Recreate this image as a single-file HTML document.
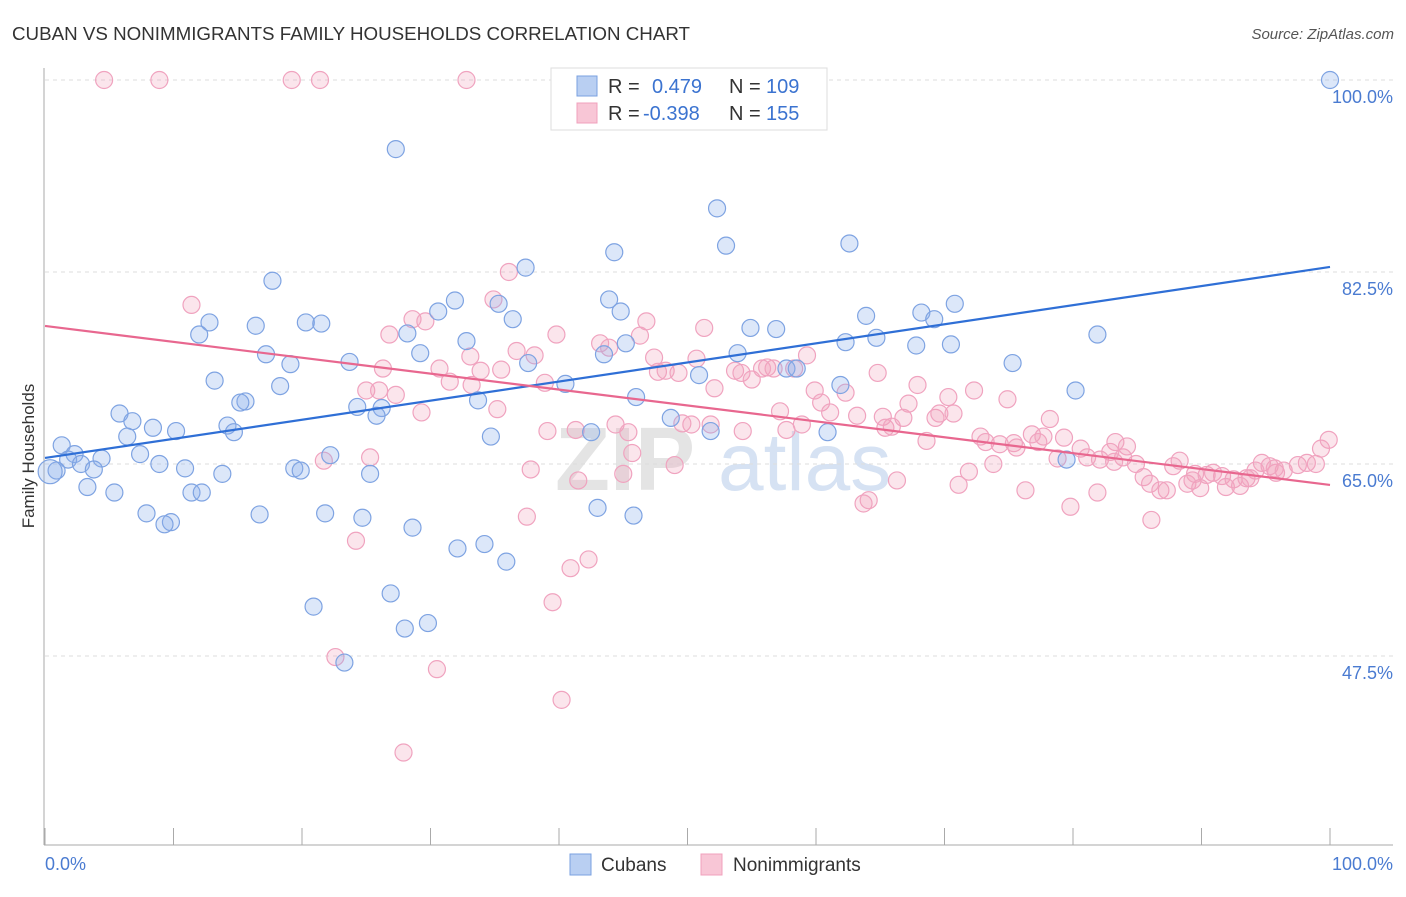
<!DOCTYPE html>
<html><head><meta charset="utf-8"><style>
body{margin:0;background:#fff;font-family:"Liberation Sans",sans-serif}
svg text{font-family:"Liberation Sans",sans-serif}
</style></head><body>
<svg id="chart" width="1406" height="892" xmlns="http://www.w3.org/2000/svg">
<text x="12" y="40" font-size="18.5" fill="#333" textLength="678" lengthAdjust="spacingAndGlyphs">CUBAN VS NONIMMIGRANTS FAMILY HOUSEHOLDS CORRELATION CHART</text>
<text x="1394" y="39" font-size="15" fill="#555" font-style="italic" text-anchor="end">Source: ZipAtlas.com</text>
<g>
<text x="555" y="490" font-size="90" fill="#e4e4e4" font-family="Liberation Serif" font-weight="bold">ZIP</text>
<text x="718" y="490" font-size="82" fill="#d6e2f3">atlas</text>
</g>
<g id="grid"></g>
<g id="axes"></g>
<g id="pts"></g>
<g id="lines"></g>
<text transform="translate(34,456) rotate(-90)" font-size="17" fill="#333" text-anchor="middle">Family Households</text>
<g>
<rect x="551" y="68" width="276" height="62" fill="#fff" stroke="#ddd"/>
<rect x="577" y="76" width="20" height="20" fill="#b9cff2" stroke="#7aa0e0"/>
<rect x="577" y="103" width="20" height="20" fill="#f8c6d6" stroke="#f0a0bc"/>
<text x="608" y="93" font-size="20" fill="#333">R =</text>
<text x="652" y="93" font-size="20" fill="#3b73d0">0.479</text>
<text x="729" y="93" font-size="20" fill="#333">N =</text>
<text x="766" y="93" font-size="20" fill="#3b73d0">109</text>
<text x="608" y="120" font-size="20" fill="#333">R =</text>
<text x="643" y="120" font-size="20" fill="#3b73d0">-0.398</text>
<text x="729" y="120" font-size="20" fill="#333">N =</text>
<text x="766" y="120" font-size="20" fill="#3b73d0">155</text>
</g>
<g>
<rect x="570" y="854" width="21" height="21" fill="#b9cff2" stroke="#7aa0e0"/>
<text x="601" y="871" font-size="19" fill="#333">Cubans</text>
<rect x="701" y="854" width="21" height="21" fill="#f8c6d6" stroke="#f0a0bc"/>
<text x="733" y="871" font-size="19" fill="#333">Nonimmigrants</text>
</g>
</svg>
<script>
const yTicks=[100,82.5,65,47.5];
const yTickLabels=["100.0%","82.5%","65.0%","47.5%"];
const xTickLabels=["0.0%","100.0%"];
const cubanX=[100,27.3,52.3,62.6,53.0,44.3,37.4,17.7,43.9,31.9,35.3,70.8,30.6,44.8,63.9,68.2,69.2,12.8,16.4,20.3,21.5,36.4,54.9,56.9,12.0,28.2,81.9,32.8,45.2,64.7,70.5,67.8,62.3,17.2,29.2,43.5,53.9,23.7,37.6,19.1,75.3,13.2,18.3,40.5,50.9,57.7,58.5,61.9,80.2,15.6,15.2,33.7,46.0,24.3,26.2,25.8,5.8,6.8,48.7,14.2,14.7,8.4,10.2,6.4,42.5,34.7,51.8,60.9,1.3,2.3,7.4,4.4,22.2,1.8,2.8,3.8,8.9,10.9,19.4,19.9,25.3,13.8,0.9,0.4,3.3,5.4,11.4,12.2,79.5,7.9,16.7,21.8,24.7,9.8,9.3,43.0,45.8,28.6,32.1,34.2,35.9,26.9,20.9,28.0,29.8,23.3];
const cubanY=[100,93.7,88.3,85.1,84.9,84.3,82.9,81.7,80.0,79.9,79.6,79.6,78.9,78.9,78.5,78.8,78.2,77.9,77.6,77.9,77.8,78.2,77.4,77.3,76.8,76.9,76.8,76.2,76.0,76.5,75.9,75.8,76.1,75.0,75.1,75.0,75.1,74.3,74.2,74.1,74.2,72.6,72.1,72.3,73.1,73.7,73.7,72.2,71.7,70.7,70.6,70.8,71.1,70.2,70.1,69.4,69.6,68.9,69.2,68.5,67.9,68.3,68.0,67.5,67.9,67.5,68.0,67.9,66.7,65.9,65.9,65.5,65.8,65.4,65.0,64.5,65.0,64.6,64.6,64.4,64.1,64.1,64.4,64.3,62.9,62.4,62.4,62.4,65.4,60.5,60.4,60.5,60.1,59.7,59.5,61.0,60.3,59.2,57.3,57.7,56.1,53.2,52.0,50.0,50.5,46.9];
const nonX=[4.6,8.9,19.2,21.4,32.8,11.4,36.1,34.9,28.6,29.6,46.8,39.8,51.3,26.8,43.2,46.3,36.7,43.9,38.1,47.4,50.7,59.3,33.1,26.3,30.7,33.9,35.5,47.7,48.3,49.3,53.7,54.2,56.2,56.7,58.3,64.8,25.0,26.0,27.3,33.2,31.5,38.9,52.1,55.0,55.8,59.9,62.3,67.9,72.3,70.3,74.9,60.4,67.2,35.2,29.3,57.2,61.1,63.2,65.2,66.8,69.3,69.6,70.7,78.2,49.6,50.3,51.8,58.9,54.3,57.7,39.1,41.3,44.4,45.4,65.4,65.9,72.8,76.8,77.7,79.3,75.4,74.3,73.2,77.3,75.6,68.6,45.7,80.6,78.8,83.3,84.2,82.9,83.9,81.1,82.1,84.9,83.2,88.3,87.8,89.5,90.4,91.6,92.5,93.5,94.7,95.3,95.8,96.4,97.5,98.2,98.9,99.3,99.9,94.2,90.9,85.5,86.0,86.8,87.3,88.9,89.9,91.9,93.0,93.8,95.7,73.8,71.9,71.1,76.3,81.9,79.8,86.1,89.3,66.3,64.1,63.7,49.0,41.5,21.7,25.3,37.8,45.0,37.5,24.2,42.3,40.9,39.5,22.6,30.5,40.2,27.9];
const nonY=[100,100,100,100,100,79.5,82.5,80.0,78.2,78.0,78.0,76.8,77.4,76.8,76.0,76.7,75.3,75.6,74.9,74.7,74.6,74.9,74.8,73.7,73.7,73.5,73.6,73.4,73.5,73.3,73.5,73.3,73.8,73.7,73.7,73.3,71.7,71.7,71.3,72.2,72.5,72.4,71.9,72.7,73.7,71.7,71.5,72.2,71.7,71.1,70.9,70.6,70.5,70.0,69.7,69.8,69.7,69.4,69.3,69.2,69.2,69.6,69.6,69.1,68.7,68.6,68.6,68.6,68.0,68.1,68.0,68.1,68.6,67.9,68.3,68.4,67.5,67.7,67.5,67.4,66.9,66.8,67.0,67.0,66.5,67.1,66.0,66.4,65.5,67.0,66.6,66.1,65.6,65.6,65.4,65.0,65.2,65.3,64.8,64.1,64.0,63.9,63.6,63.7,65.1,64.8,64.2,64.4,64.9,65.1,65.0,66.4,67.2,64.4,64.2,63.8,63.2,62.6,62.6,63.2,62.8,62.9,63.0,63.7,64.6,65.0,64.3,63.1,62.6,62.4,61.1,59.9,63.5,63.5,61.7,61.4,64.9,63.5,65.3,65.6,64.5,64.1,60.2,58.0,56.3,55.5,52.4,47.4,46.3,43.5,38.7];
const cubanTrend=[65.55,82.96];
const nonTrend=[77.58,63.09];

const NS="http://www.w3.org/2000/svg";
const X0=45,X1=1330,YTOP=80,PX_PER=10.971;
function sx(v){return X0+(X1-X0)*v/100;}
function sy(v){return YTOP+(100-v)*PX_PER;}
function mk(tag,attrs,parent){const e=document.createElementNS(NS,tag);for(const k in attrs)e.setAttribute(k,attrs[k]);parent.appendChild(e);return e;}
const grid=document.getElementById('grid'),axes=document.getElementById('axes'),pts=document.getElementById('pts'),lines=document.getElementById('lines');
yTicks.forEach((t,i)=>{
 const l=mk('line',{x1:45,x2:1393,y1:sy(t),y2:sy(t),stroke:'#ddd','stroke-dasharray':'4,4'},grid);
 
 
 const tx=mk('text',{x:1393,y:sy(t)+23,'font-size':18,fill:'#4a7bd1','text-anchor':'end'},axes);
 tx.textContent=yTickLabels[i];
 
 
});
mk('line',{x1:44,x2:44,y1:68,y2:845,stroke:'#aaa'},axes);
mk('line',{x1:44,x2:1393,y1:845,y2:845,stroke:'#aaa'},axes);
for(let i=0;i<=10;i++){
 const t=mk('line',{x1:sx(i*10),x2:sx(i*10),y1:828,y2:845,stroke:'#aaa'},axes);
 
 
}
const xl0=mk('text',{x:45,y:870,'font-size':18,fill:'#4a7bd1'},axes);xl0.textContent=xTickLabels[0];


const xl1=mk('text',{x:1393,y:870,'font-size':18,fill:'#4a7bd1','text-anchor':'end'},axes);xl1.textContent=xTickLabels[1];


nonX.forEach((x,i)=>{
 const c=mk('circle',{cx:sx(x),cy:sy(nonY[i]),r:8.5,fill:'rgba(242,160,188,0.28)',stroke:'#f0a3bf','stroke-width':1.2},pts);
 
 
});
cubanX.forEach((x,i)=>{
 const c=mk('circle',{cx:sx(x),cy:sy(cubanY[i]),r:i===83?12:8.5,fill:'rgba(140,175,235,0.3)',stroke:'#7ea3e2','stroke-width':1.2},pts);
 
 
});
const bl=mk('line',{x1:sx(0),x2:sx(100),y1:sy(cubanTrend[0]),y2:sy(cubanTrend[1]),stroke:'#2f6fd6','stroke-width':2.2},lines);


const pl=mk('line',{x1:sx(0),x2:sx(100),y1:sy(nonTrend[0]),y2:sy(nonTrend[1]),stroke:'#e8678f','stroke-width':2.2},lines);


</script>
</body></html>
